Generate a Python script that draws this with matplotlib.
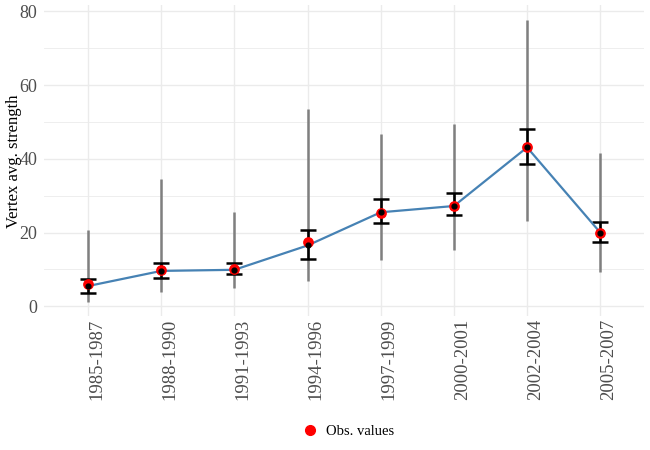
import numpy as np
import matplotlib.pyplot as plt
from matplotlib.ticker import MultipleLocator
from matplotlib.lines import Line2D

plt.rcParams['font.family'] = ['Liberation Serif', 'DejaVu Serif']

# periods and values
periods = ["1985-1987", "1988-1990", "1991-1993", "1994-1996",
           "1997-1999", "2000-2001", "2002-2004", "2005-2007"]
obs = [6.0, 9.8, 10.1, 17.4, 25.3, 27.2, 43.2, 20.0]
fitted = [5.5, 9.6, 9.9, 16.5, 25.5, 27.2, 43.1, 20.0]
ci_low = [3.6, 7.7, 8.7, 12.8, 22.6, 24.8, 38.6, 17.4]
ci_high = [7.4, 11.7, 11.7, 20.7, 29.0, 30.7, 48.1, 22.9]
range_low = [1.2, 3.9, 5.0, 6.9, 12.6, 15.3, 23.1, 9.3]
range_high = [20.8, 34.6, 25.5, 53.6, 46.6, 49.5, 77.7, 41.7]

x = np.arange(len(periods))

fig = plt.figure(figsize=(6.5, 4.5), dpi=100)
ax = fig.add_axes([0.068, 0.298, 0.923, 0.69])

# grey range lines
ax.vlines(x, range_low, range_high, color="#7f7f7f", lw=1.8, zorder=2)
# black error bars
ax.errorbar(x, fitted, yerr=[np.array(fitted) - ci_low, np.array(ci_high) - fitted],
            fmt="none", ecolor="black", elinewidth=1.8, capsize=5.5, capthick=1.8, zorder=3)
# fitted line
ax.plot(x, fitted, color="#4682B4", lw=1.6, zorder=4)
# observed values
ax.scatter(x, obs, color="red", s=45, zorder=5)
ax.scatter(x, fitted, color="black", s=12, zorder=6)

ax.set_xlim(-0.6, len(periods) - 0.4)
ax.set_ylim(-2.6, 81.6)
ax.set_xticks(x)
ax.set_xticklabels(periods, rotation=90, fontsize=13.5, color="#4D4D4D", ha="left")
ax.yaxis.set_major_locator(MultipleLocator(20))
ax.yaxis.set_minor_locator(MultipleLocator(10))
ax.tick_params(axis="y", labelsize=13, labelcolor="#4D4D4D", pad=5)
ax.tick_params(axis="x", pad=2)
ax.tick_params(which="both", length=0)
ax.grid(True, which="major", color="#EBEBEB", lw=1.0)
ax.grid(True, which="minor", axis="y", color="#EBEBEB", lw=0.6)
ax.set_axisbelow(True)
for s in ax.spines.values():
    s.set_visible(False)
fig.text(14 / 650, 0.642, "Vertex avg. strength", rotation=90, fontsize=12,
         ha="center", va="center")

handle = Line2D([], [], marker="o", color="red", ls="none", markersize=7)
fig.legend([handle], ["Obs. values"], loc="center", bbox_to_anchor=(0.53, 0.042),
           frameon=False, fontsize=10.5, handletextpad=0.1)

fig.savefig("out.png", dpi=100)
